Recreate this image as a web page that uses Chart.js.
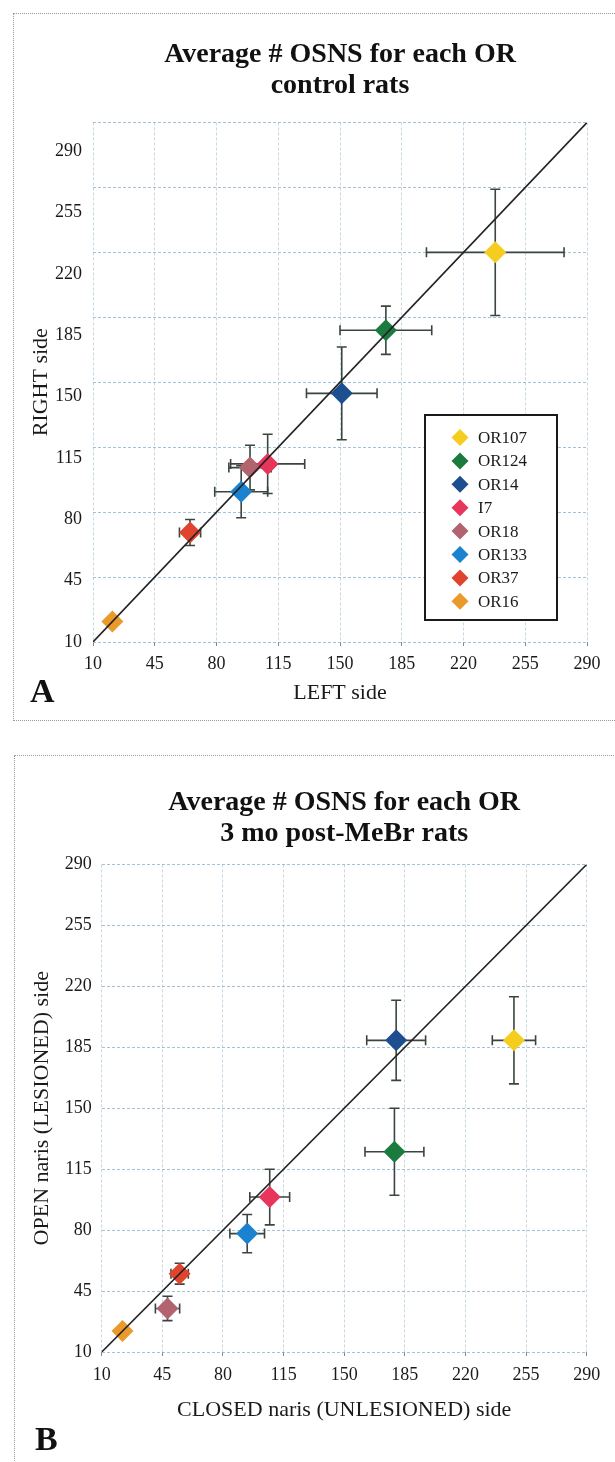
<!DOCTYPE html>
<html>
<head>
<meta charset="utf-8">
<script src="https://cdn.jsdelivr.net/npm/chart.js@4.4.0/dist/chart.umd.min.js"></script>
<style>
  body { margin: 0; background: #fff; width: 615px; height: 1462px; overflow: hidden; position: relative; }
  .box { position: absolute; border: 1px dotted #9a9a9a; }
  #boxA { left: 13px; top: 13px; width: 640px; height: 706px; }
  #boxB { left: 14px; top: 755px; width: 640px; height: 760px; }
  .wrap { position: absolute; left: 0; width: 615px; }
  #wrapA { top: 0; height: 735px; }
  #wrapB { top: 740px; height: 722px; }
  .tag { position: absolute; font: bold 34px "Liberation Serif", serif; color: #111; line-height: 1; }
</style>
</head>
<body>
<div class="box" id="boxA"></div>
<div class="box" id="boxB"></div>
<div class="wrap" id="wrapA"><canvas id="chartA"></canvas></div>
<div class="wrap" id="wrapB"><canvas id="chartB"></canvas></div>
<div class="tag" style="left:30px;top:674px">A</div>
<div class="tag" style="left:35px;top:1422px">B</div>
<script>
// olfactory receptors, same order in both panels
var receptors = ['OR107', 'OR124', 'OR14', 'I7', 'OR18', 'OR133', 'OR37', 'OR16'];
var colors = ['#f4cd1e', '#1b7b3f', '#1d4e8f', '#e8355c', '#b1646f', '#1b82cf', '#e0442f', '#e99a2b'];

// A: control rats
var leftSide = [238, 176, 151, 109, 99, 94, 65, 21];
var rightSide = [220, 178, 144, 106, 104, 91, 69, 21];
var leftErr = [39, 26, 20, 21, 12, 15, 6, 2];
var rightErr = [34, 13, 25, 16, 12, 14, 7, 2];

// B: 3 mo post-MeBr rats
var closedSide = [248, 179, 180, 107, 48, 94, 55, 22];
var openSide = [189, 125, 189, 99, 35, 78, 55, 22];
var closedErr = [12.5, 17, 17, 11.5, 7, 10, 5, 2];
var openErr = [25, 25, 23, 16, 7, 11, 6, 2];

var axisTicks = [10, 45, 80, 115, 150, 185, 220, 255, 290];
var diagonal = [10, 290];

var serif = '"Liberation Serif", "Times New Roman", serif';
var gridColor = 'rgba(135, 172, 198, 0.75)';
var vGridColor = 'rgba(150, 185, 208, 0.55)';
var gridDash = [3, 2];

// error bars behind the diamonds
var errorBars = {
    id: 'errorBars',
    beforeDatasetsDraw: function(chart) {
        var ctx = chart.ctx, x = chart.scales.x, y = chart.scales.y;
        ctx.save();
        ctx.strokeStyle = '#3a4540';
        ctx.lineWidth = 1.6;
        chart.data.datasets.forEach(function(ds) {
            ds.data.forEach(function(p) {
                if (p.xErr === undefined) return;
                var px = x.getPixelForValue(p.x), py = y.getPixelForValue(p.y);
                var xl = x.getPixelForValue(p.x - p.xErr), xr = x.getPixelForValue(p.x + p.xErr);
                var yt = y.getPixelForValue(p.y + p.yErr), yb = y.getPixelForValue(p.y - p.yErr);
                var c = 5;
                ctx.beginPath();
                ctx.moveTo(xl, py); ctx.lineTo(xr, py);
                ctx.moveTo(xl, py - c); ctx.lineTo(xl, py + c);
                ctx.moveTo(xr, py - c); ctx.lineTo(xr, py + c);
                ctx.moveTo(px, yt); ctx.lineTo(px, yb);
                ctx.moveTo(px - c, yt); ctx.lineTo(px + c, yt);
                ctx.moveTo(px - c, yb); ctx.lineTo(px + c, yb);
                ctx.stroke();
            });
        });
        ctx.restore();
    }
};

// boxed legend inside the plot (panel A only)
var boxLegend = {
    id: 'boxLegend',
    afterDraw: function(chart, args, opts) {
        if (!opts.show) return;
        var ctx = chart.ctx;
        ctx.save();
        ctx.fillStyle = '#fff';
        ctx.fillRect(opts.left, opts.top, opts.width, opts.height);
        ctx.strokeStyle = '#1a1a1a';
        ctx.lineWidth = 2;
        ctx.strokeRect(opts.left, opts.top, opts.width, opts.height);
        ctx.font = '17px ' + serif;
        ctx.textBaseline = 'middle';
        var row = 0;
        chart.data.datasets.forEach(function(ds) {
            if (ds.guide) return;
            var cy = opts.top + opts.firstRow + row * opts.rowHeight;
            var cx = opts.left + opts.markerX, r = 8.5;
            ctx.fillStyle = ds.backgroundColor;
            ctx.beginPath();
            ctx.moveTo(cx - r, cy); ctx.lineTo(cx, cy - r); ctx.lineTo(cx + r, cy); ctx.lineTo(cx, cy + r);
            ctx.closePath();
            ctx.fill();
            ctx.fillStyle = '#1a1a1a';
            ctx.fillText(ds.label, opts.left + opts.textX, cy + 1);
            row++;
        });
        ctx.restore();
    }
};

function buildDatasets(xs, ys, xe, ye) {
    var sets = receptors.map(function(name, i) {
        return {
            label: name,
            data: [{ x: xs[i], y: ys[i], xErr: xe[i], yErr: ye[i] }],
            backgroundColor: colors[i],
            pointStyle: 'rectRot',
            pointRadius: 11,
            pointBorderWidth: 0,
            order: 1
        };
    });
    sets.push({
        label: 'x = y',
        guide: true,
        data: [{ x: diagonal[0], y: diagonal[0] }, { x: diagonal[1], y: diagonal[1] }],
        showLine: true,
        borderColor: '#222',
        borderWidth: 1.6,
        pointRadius: 0,
        order: 0
    });
    return sets;
}

function setTicks(scale) {
    scale.ticks = axisTicks.map(function(v) { return { value: v }; });
}

function xAxis(title, height, pad) {
    return {
        type: 'linear', min: 10, max: 290,
        afterBuildTicks: setTicks,
        afterFit: function(s) { s.height = height; },
        border: { display: false, dash: gridDash },
        grid: { color: vGridColor, tickColor: '#7b8a90', tickLength: 4, lineWidth: 1 },
        ticks: { color: '#1a1a1a', font: { family: serif, size: 18 }, padding: pad },
        title: { display: true, text: title, color: '#1a1a1a', font: { family: serif, size: 22 }, padding: 0 }
    };
}

// Panel A
var labelAxisMax = 306.5;   // the printed tick column of panel A is compressed against the grid
var chartA = new Chart(document.getElementById('chartA').getContext('2d'), {
    type: 'scatter',
    data: { datasets: buildDatasets(leftSide, rightSide, leftErr, rightErr) },
    options: {
        responsive: true, maintainAspectRatio: false, animation: false,
        layout: { padding: { left: 14, right: 28, top: 0, bottom: 28.8 } },
        scales: {
            x: xAxis('LEFT side', 64.2, 7),
            y: {
                type: 'linear', min: 10, max: 290, position: 'left', weight: 0,
                afterBuildTicks: setTicks,
                afterFit: function(s) { s.width = 0; },
                border: { display: false, dash: gridDash },
                grid: { color: gridColor, drawTicks: false },
                ticks: { display: false }
            },
            yl: {
                type: 'linear', min: 10, max: labelAxisMax, position: 'left', weight: 1,
                afterBuildTicks: setTicks,
                afterFit: function(s) { s.width = 79; },
                border: { display: false },
                grid: { display: false, drawTicks: false },
                ticks: { color: '#1a1a1a', font: { family: serif, size: 18 }, padding: 11 },
                title: { display: true, text: 'RIGHT side', color: '#1a1a1a', font: { family: serif, size: 22 }, padding: { top: 14 } }
            }
        },
        plugins: {
            legend: { display: false },
            tooltip: { enabled: false },
            title: {
                display: true, fullSize: false,
                text: ['Average # OSNS for each OR', 'control rats'],
                color: '#111',
                font: { family: serif, size: 28, weight: 'bold', lineHeight: 1.08 },
                padding: { top: 40, bottom: 22 }
            },
            boxLegend: { show: true, left: 425, top: 415, width: 132, height: 205, firstRow: 22.5, rowHeight: 23.4, markerX: 35, textX: 53 }
        }
    },
    plugins: [errorBars, boxLegend]
});

// Panel B
var chartB = new Chart(document.getElementById('chartB').getContext('2d'), {
    type: 'scatter',
    data: { datasets: buildDatasets(closedSide, openSide, closedErr, openErr) },
    options: {
        responsive: true, maintainAspectRatio: false, animation: false,
        layout: { padding: { left: 14, right: 28.3, top: 0, bottom: 38.8 } },
        scales: {
            x: xAxis('CLOSED naris (UNLESIONED) side', 71.2, 8),
            y: {
                type: 'linear', min: 10, max: 290, position: 'left',
                afterBuildTicks: setTicks,
                afterFit: function(s) { s.width = 87.7; },
                border: { display: false, dash: gridDash },
                grid: { color: gridColor, drawTicks: false },
                ticks: { color: '#1a1a1a', font: { family: serif, size: 18 }, padding: 10 },
                title: { display: true, text: 'OPEN naris (LESIONED) side', color: '#1a1a1a', font: { family: serif, size: 22 }, padding: { top: 15 } }
            }
        },
        plugins: {
            legend: { display: false },
            tooltip: { enabled: false },
            title: {
                display: true, fullSize: false,
                text: ['Average # OSNS for each OR', '3 mo post-MeBr rats'],
                color: '#111',
                font: { family: serif, size: 28, weight: 'bold', lineHeight: 1.08 },
                padding: { top: 48, bottom: 16 }
            },
            boxLegend: { show: false }
        }
    },
    plugins: [errorBars, boxLegend]
});
</script>
</body>
</html>
